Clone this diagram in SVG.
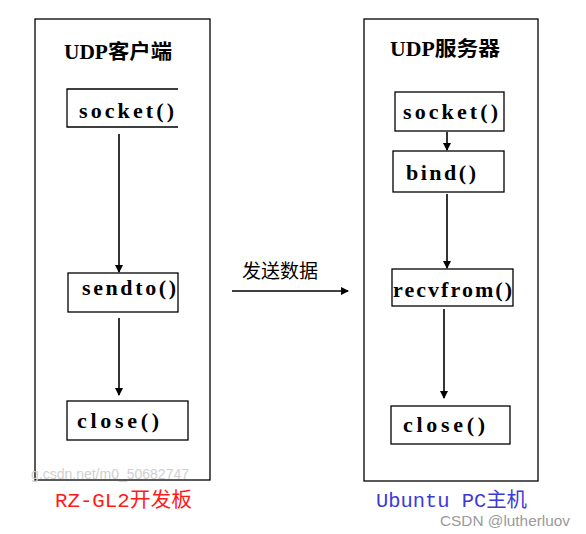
<svg xmlns="http://www.w3.org/2000/svg" width="586" height="534" viewBox="0 0 586 534">
<defs>
<marker id="ah" markerWidth="8" markerHeight="10" refX="7" refY="4" orient="auto" markerUnits="userSpaceOnUse">
<path d="M0,0 L8,4 L0,8 Z" fill="#000"/>
</marker>
<style>
.box{fill:#fff;stroke:#000;stroke-width:1.3}
.frame{fill:none;stroke:#000;stroke-width:1.3}
.code{font-family:"Liberation Serif","DejaVu Serif",serif;font-weight:bold;font-size:22px;fill:#000}
.title{font-family:"Liberation Serif","Noto Sans CJK SC",serif;font-weight:bold;font-size:20px;fill:#000}
.cn{font-family:"Noto Sans CJK SC",serif;font-size:19px;fill:#000}
.lbl{font-family:"Liberation Mono","Noto Sans CJK SC",monospace;font-size:20px}
.wm{font-family:"Liberation Sans","DejaVu Sans",sans-serif;font-size:14px}
.conn{stroke:#000;stroke-width:1.6;fill:none}
</style>
</defs>
<rect width="586" height="534" fill="#fff"/>
<g id="client-frame">
<rect class="frame" x="35" y="19" width="175" height="461"/>
<text class="title" x="64" y="59" textLength="108" lengthAdjust="spacingAndGlyphs">UDP客户端</text>
</g>
<g id="server-frame">
<rect class="frame" x="364" y="19" width="174" height="462"/>
<text class="title" x="390" y="56" textLength="110" lengthAdjust="spacingAndGlyphs">UDP服务器</text>
</g>
<g id="c-socket">
<path class="box" d="M178,89 H67 V127 H178"/>
<text class="code" x="79" y="118" textLength="95" lengthAdjust="spacing">socket()</text>
</g>
<g id="c-sendto">
<rect class="box" x="68" y="273" width="110" height="39"/>
<text class="code" x="82" y="295" textLength="94" lengthAdjust="spacing">sendto()</text>
</g>
<g id="c-close">
<rect class="box" x="67" y="401" width="121" height="39"/>
<text class="code" x="77" y="428" textLength="82" lengthAdjust="spacing">close()</text>
</g>
<g id="s-socket">
<rect class="box" x="395" y="92" width="109" height="39"/>
<text class="code" x="403" y="119" textLength="95" lengthAdjust="spacing">socket()</text>
</g>
<g id="s-bind">
<rect class="box" x="393" y="151" width="111" height="41"/>
<text class="code" x="406" y="180" textLength="70" lengthAdjust="spacing">bind()</text>
</g>
<g id="s-recvfrom">
<rect class="box" x="392" y="269" width="121" height="37"/>
<text class="code" x="393" y="297" textLength="119" lengthAdjust="spacing">recvfrom()</text>
</g>
<g id="s-close">
<rect class="box" x="391" y="406" width="119" height="38"/>
<text class="code" x="403" y="432" textLength="82" lengthAdjust="spacing">close()</text>
</g>
<g id="connectors">
<line class="conn" x1="119" y1="134" x2="119" y2="272" marker-end="url(#ah)"/>
<line class="conn" x1="119" y1="318" x2="119" y2="395" marker-end="url(#ah)"/>
<line class="conn" x1="447" y1="132" x2="447" y2="150" marker-end="url(#ah)"/>
<line class="conn" x1="447" y1="194" x2="447" y2="268" marker-end="url(#ah)"/>
<line class="conn" x1="444" y1="309" x2="444" y2="398" marker-end="url(#ah)"/>
<line class="conn" x1="232" y1="291" x2="348" y2="291" marker-end="url(#ah)"/>
</g>
<text class="cn" x="242" y="278">发送数据</text>
<text class="lbl" x="55" y="507" fill="#ff1a1a" textLength="137" lengthAdjust="spacingAndGlyphs">RZ-GL2开发板</text>
<text class="lbl" x="376" y="507" fill="#3a3ad8" textLength="151" lengthAdjust="spacingAndGlyphs">Ubuntu PC主机</text>
<text class="wm" x="31" y="479" fill="#d0d0d0">g.csdn.net/m0_50682747</text>
<text class="wm" x="440" y="526" fill="#9a9a9a" textLength="130" lengthAdjust="spacingAndGlyphs">CSDN @lutherluov</text>
</svg>
